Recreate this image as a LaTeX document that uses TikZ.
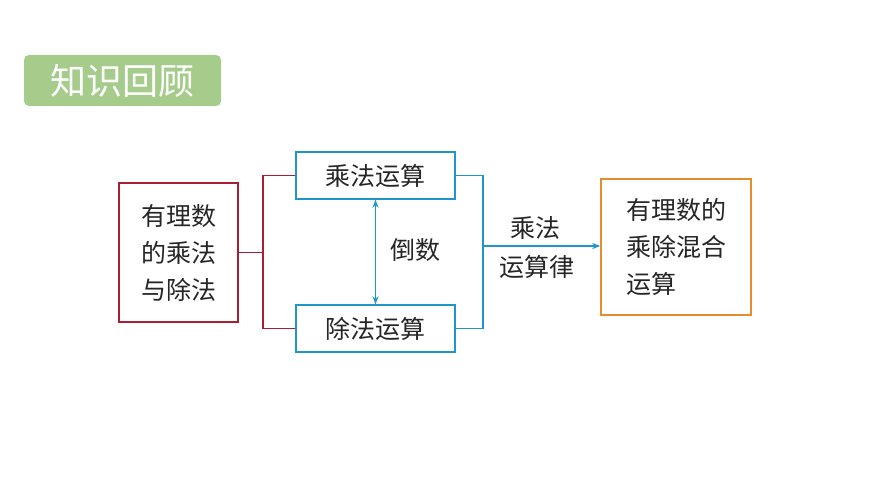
\documentclass[tikz,border=0pt]{standalone}
\usepackage{fontspec}
\newfontfamily\cjk{Noto Sans CJK SC}
\usetikzlibrary{arrows.meta}
\definecolor{tgreen}{RGB}{166,204,140}
\definecolor{tred}{RGB}{170,30,50}
\definecolor{tblue}{RGB}{30,150,200}
\definecolor{torange}{RGB}{230,140,40}
\begin{document}
\begin{tikzpicture}[x=1pt,y=-1pt,
  txt/.style={font=\cjk\fontsize{25}{37}\selectfont,text=black!85},
  bbox/.style={draw=tblue,line width=1.5pt,minimum width=159pt,minimum height=47pt,txt}]
\useasboundingbox (0,0) rectangle (870,489);
\node[fill=tgreen,rounded corners=5pt,minimum width=197pt,minimum height=51pt,text=white,font=\cjk\fontsize{36}{40}\selectfont] (title) at (122.5,80.5) {知识回顾};
\node[draw=tred,line width=1.5pt,minimum width=119pt,minimum height=139pt,txt,align=center] (L) at (178.5,252.5) {有理数\\的乘法\\与除法};
\node[bbox] (T) at (375.5,175.5) {乘法运算};
\node[bbox] (B) at (375.5,328.5) {除法运算};
\node[draw=torange,line width=1.5pt,minimum width=150pt,minimum height=136pt,txt,align=left] (R) at (676,247) {有理数的\\乘除混合\\运算\hphantom{混合}};
\coordinate (lm) at (263,252.5);
\draw[tred,line width=1.5pt] (L.east) -- (lm) (T.west -| lm) -- (B.west -| lm) (T.west -| lm) -- (T.west) (B.west -| lm) -- (B.west);
\coordinate (rm) at (483,246);
\draw[tblue,line width=1.5pt] (T.east) -- (T.east -| rm) -- (B.east -| rm) -- (B.east);
\draw[tblue,line width=1.5pt,-{Stealth[length=8pt]}] (rm) -- (R.west |- rm);
\draw[tblue,line width=1.5pt,{Stealth[length=8pt]}-{Stealth[length=8pt]}] (T.south) -- (B.south |- B.north);
\node[txt] (d) at (415,250) {倒数};
\node[txt] (m1) at (535,228) {乘法};
\node[txt] (m2) at (537,267) {运算律};
\end{tikzpicture}
\end{document}
